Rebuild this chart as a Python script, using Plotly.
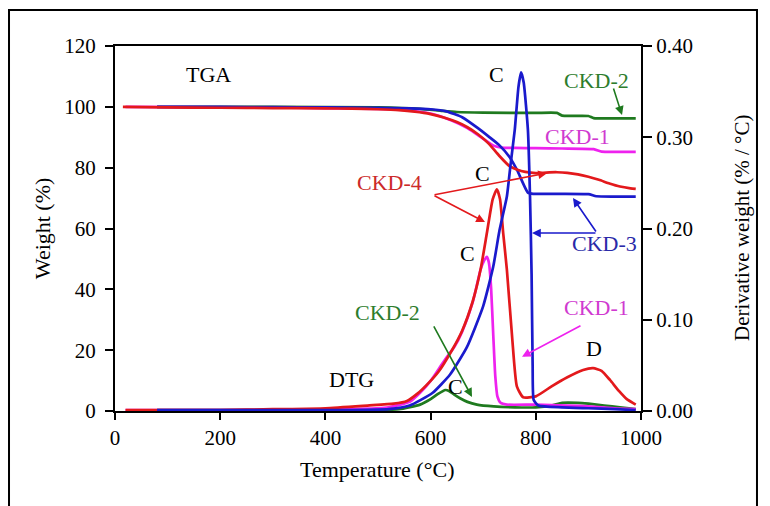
import plotly.graph_objects as go

# ---------------- data ----------------
# TGA (weight %, left axis)
tga4_t = [15, 100, 200, 300, 400, 450, 500, 540, 570, 600, 625, 650, 670, 690, 710, 730, 750, 765, 780, 800, 820, 840, 860, 880, 900, 920, 940, 960, 980, 990]
tga4_w = [100, 99.8, 99.7, 99.6, 99.5, 99.4, 99.2, 98.9, 98.4, 97.6, 96.5, 95.0, 93.3, 91.0, 88.0, 84.0, 80.5, 79.3, 78.6, 78.2, 78.4, 78.5, 78.3, 77.8, 77.0, 76.0, 74.8, 73.8, 73.2, 73.0]

tga3_t = [80, 200, 300, 400, 500, 560, 600, 630, 660, 690, 710, 730, 750, 765, 785, 795, 820, 900, 915, 950, 990]
tga3_w = [100, 100, 99.9, 99.8, 99.7, 99.5, 99.2, 98.5, 96.6, 93.0, 90.3, 87.5, 83.5, 79.0, 71.8, 71.4, 71.4, 71.3, 70.6, 70.5, 70.5]

tga2_t = [80, 300, 500, 580, 620, 650, 700, 800, 840, 850, 900, 910, 950, 990]
tga2_w = [100, 100, 99.8, 99.3, 98.7, 98.3, 98.1, 98.0, 98.0, 97.1, 97.0, 96.3, 96.2, 96.2]

tga1_t = [20, 300, 500, 560, 600, 640, 670, 700, 720, 735, 760, 800, 850, 910, 925, 950, 990]
tga1_w = [100, 99.8, 99.3, 98.8, 97.8, 95.5, 93.0, 89.5, 87.2, 86.6, 86.5, 86.4, 86.3, 86.1, 85.3, 85.2, 85.2]

# DTG (derivative weight %/°C, right axis)
dtg4_t = [20, 100, 200, 300, 400, 480, 530, 555, 575, 595, 615, 640, 660, 680, 695, 707, 718, 726, 732, 738, 745, 755, 764, 776, 800, 830, 860, 890, 909, 925, 941, 958, 973, 990]
dtg4_d = [0.001, 0.001, 0.001, 0.002, 0.003, 0.006, 0.008, 0.011, 0.019, 0.030, 0.043, 0.066, 0.088, 0.120, 0.155, 0.195, 0.232, 0.243, 0.232, 0.195, 0.155, 0.081, 0.027, 0.015, 0.016, 0.027, 0.037, 0.045, 0.047, 0.044, 0.034, 0.022, 0.013, 0.007]

dtg3_t = [80, 300, 450, 520, 560, 604, 637, 669, 700, 719, 731, 745, 752, 760, 767, 772, 777, 785, 789, 792, 794, 796, 805, 850, 900, 950, 990]
dtg3_d = [0.001, 0.001, 0.001, 0.002, 0.006, 0.020, 0.040, 0.070, 0.115, 0.158, 0.198, 0.235, 0.270, 0.308, 0.355, 0.371, 0.360, 0.308, 0.235, 0.150, 0.050, 0.012, 0.006, 0.004, 0.003, 0.002, 0.001]

dtg1_t = [20, 300, 450, 520, 560, 580, 600, 620, 632, 645, 660, 680, 695, 702, 707, 711, 715, 719, 723, 727, 733, 745, 800, 860, 900, 950, 990]
dtg1_d = [0.001, 0.001, 0.002, 0.004, 0.010, 0.020, 0.033, 0.050, 0.060, 0.070, 0.087, 0.119, 0.155, 0.165, 0.169, 0.162, 0.135, 0.085, 0.038, 0.016, 0.009, 0.007, 0.007, 0.006, 0.005, 0.003, 0.002]

dtg2_t = [80, 300, 500, 540, 580, 600, 615, 628, 635, 645, 656, 670, 688, 720, 760, 800, 830, 850, 880, 900, 930, 960, 990]
dtg2_d = [0.001, 0.001, 0.001, 0.002, 0.007, 0.013, 0.019, 0.023, 0.022, 0.018, 0.014, 0.010, 0.007, 0.005, 0.004, 0.004, 0.006, 0.009, 0.009, 0.008, 0.006, 0.004, 0.002]

x_ticks = [0, 200, 400, 600, 800, 1000]
y_ticks = [0, 20, 40, 60, 80, 100, 120]
y2_ticks = [0.0, 0.1, 0.2, 0.3, 0.4]

# ---------------- styling ----------------
GREEN = "#1f7a1f"
MAGENTA = "#ee22ee"
RED = "#e3191c"
BLUE = "#1a1acc"
T_GREEN = "#2d7d2d"
T_MAG = "#d03ad0"
T_RED = "#cc2a2a"
T_BLUE = "#2a2aa8"
FONT = "Liberation Serif"
LW = 2.7

fig = go.Figure()

def add(t, v, color, axis):
    fig.add_trace(go.Scatter(x=t, y=v, mode="lines", yaxis=axis,
                             line=dict(color=color, width=LW, shape="spline", smoothing=0.5),
                             showlegend=False, hoverinfo="skip"))

# DTG first then TGA
add(dtg2_t, dtg2_d, GREEN, "y2")
add(dtg1_t, dtg1_d, MAGENTA, "y2")
add(dtg4_t, dtg4_d, RED, "y2")
add(dtg3_t, dtg3_d, BLUE, "y2")
add(tga2_t, tga2_w, GREEN, "y")
add(tga1_t, tga1_w, MAGENTA, "y")
add(tga3_t, tga3_w, BLUE, "y")
add(tga4_t, tga4_w, RED, "y")

tickfont = dict(family=FONT, size=21, color="black")

# page body has an 8px margin: figure sized to fit the 770x506 window
fig.update_layout(
    width=762, height=498,
    margin=dict(l=107, r=129, t=38, b=95, autoexpand=False),
    paper_bgcolor="white", plot_bgcolor="white",
    font=dict(family=FONT, color="black"),
    xaxis=dict(range=[0, 1000], tickvals=x_ticks, showgrid=False, zeroline=False,
               showline=True, linecolor="black", linewidth=2, mirror=True,
               ticks="outside", ticklen=7, tickwidth=2, tickcolor="black",
               tickfont=tickfont, ticklabelstandoff=0),
    yaxis=dict(range=[0, 120], tickvals=y_ticks, showgrid=False, zeroline=False,
               showline=True, linecolor="black", linewidth=2,
               ticks="outside", ticklen=8, tickwidth=2, tickcolor="black",
               tickfont=tickfont, ticklabelstandoff=5),
    yaxis2=dict(range=[0, 0.40], tickvals=y2_ticks, tickformat=".2f", overlaying="y",
                side="right", showgrid=False, zeroline=False,
                showline=True, linecolor="black", linewidth=2,
                ticks="outside", ticklen=9, tickwidth=2, tickcolor="black",
                tickfont=tickfont, ticklabelstandoff=0),
)

# outer frame
fig.add_shape(type="rect", xref="paper", yref="paper",
              x0=-0.2015, x1=1.2205, y0=-0.30, y1=1.0986,
              line=dict(color="black", width=2), fillcolor="rgba(0,0,0,0)", layer="below")

# axis titles
fig.add_annotation(text="Temperature (°C)", xref="paper", yref="paper", x=0.498, y=-0.159,
                   xanchor="center", yanchor="middle",
                   showarrow=False, font=dict(family=FONT, size=22))
fig.add_annotation(text="Weight (%)", xref="paper", yref="paper", x=-0.1388, y=0.501,
                   xanchor="center", yanchor="middle",
                   textangle=-90, showarrow=False, font=dict(family=FONT, size=22))
fig.add_annotation(text="Derivative weight (% / °C)", xref="paper", yref="paper", x=1.192, y=0.504,
                   xanchor="center", yanchor="middle",
                   textangle=-90, showarrow=False, font=dict(family=FONT, size=21))

# text labels (temperature, weight coordinates)
labels = [
    ("TGA", 176.8, 110.5, "black"),
    ("DTG", 448.7, 10.2, "black"),
    ("C", 726, 110.5, "black"),
    ("CKD-2", 916, 108.8, T_GREEN),
    ("CKD-1", 880, 90.1, T_MAG),
    ("C", 699.6, 78.2, "black"),
    ("CKD-4", 521, 75.0, T_RED),
    ("CKD-3", 929.7, 55.2, T_BLUE),
    ("C", 671, 51.9, "black"),
    ("CKD-1", 916, 33.9, T_MAG),
    ("D", 910.6, 20.7, "black"),
    ("CKD-2", 519, 32.5, T_GREEN),
    ("C", 648, 7.9, "black"),
]
for txt, lx, ly, col in labels:
    fig.add_annotation(text=txt, x=lx, y=ly, xref="x", yref="y", showarrow=False,
                       xanchor="center", yanchor="middle",
                       font=dict(family=FONT, size=22, color=col))

# arrows (tail -> tip)
arrows = [
    ((946.8, 106.5), (963.9, 97.3), GREEN),
    ((604.6, 71.0), (821.3, 78.2), RED),
    ((604.6, 71.0), (703.4, 62.1), RED),
    ((916.3, 58.5), (870.7, 70.0), BLUE),
    ((916.3, 58.5), (792.8, 58.5), BLUE),
    ((887.8, 28.3), (773.8, 17.8), MAGENTA),
    ((604.6, 28.3), (678.7, 4.6), GREEN),
]
for (tx, ty), (hx, hy), col in arrows:
    fig.add_annotation(text="", x=hx, y=hy, ax=tx, ay=ty, xref="x", yref="y",
                       axref="x", ayref="y", showarrow=True, arrowhead=2, arrowsize=1.1,
                       arrowwidth=1.6, arrowcolor=col, standoff=0, startstandoff=0)

fig.write_html("out.html")
